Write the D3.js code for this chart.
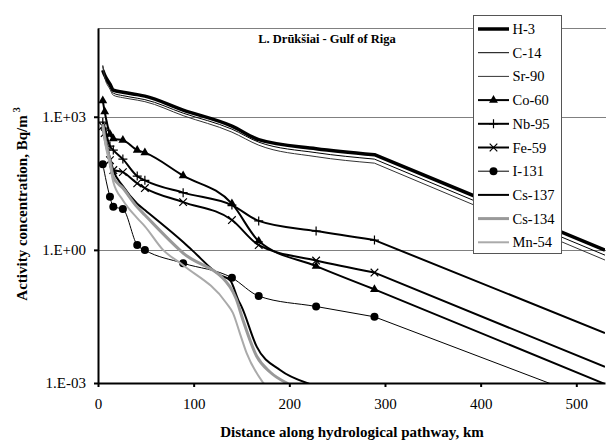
<!DOCTYPE html>
<html>
<head>
<meta charset="utf-8">
<script src="https://cdn.jsdelivr.net/npm/d3@7"></script>
<style>
body { margin: 0; background: #fff; }
svg text { font-family: "Liberation Serif", "Times New Roman", serif; fill: #000; }
</style>
</head>
<body>
<script>

// distances along the pathway (km) shared by the marker series
var dist = [5, 7, 12.5, 16, 26, 41, 49, 89, 140, 168, 228, 289, 530];

// activity concentration, Bq/m3
var h3   = [11200, 8650, 5420, 3970, 3580, 3150, 2910, 1410, 614, 305, 191, 140, 0.99];
var c14  = [13800, 8200, 4640, 3400, 2990, 2620, 2430, 1205, 526, 268, 155, 111, 0.76];
var sr90 = [14500, 7800, 4190, 3060, 2690, 2370, 2190, 1060, 450, 229, 126, 90, 0.59];
var co60 = [2300, 1300, 405, 321, 297, 177, 155, 47, 11, 1.58, 0.43, 0.129, 0.00095];
var nb95 = [755, 553, 218, 177, 111, 46, 37, 19.5, 10.2, 4.5, 2.65, 1.66, 0.0134];
var fe59 = [614, 427, 105, 63, 56.5, 31.5, 24.7, 11.9, 4.7, 1.28, 0.574, 0.308, 0.0023];
var i131 = [85.5, null, 15.7, 9.35, 8.3, 1.28, 0.99, 0.50, 0.235, 0.091, 0.053, 0.031, 0.00033];

// the short lived cesium / manganese curves have their own points
var cs137Dist = [5, 7, 12.5, 16, 26, 41, 49, 89, 98, 127.5, 138, 146.7, 150.2, 165.9, 190.3, 219.8, 240];
var cs137     = [553, 330, 117, 62.7, 27.3, 11, 7.9, 1.5, 1.0, 0.27, 0.209, 0.074, 0.052, 0.0066, 0.00196, 0.00098, 0.0006];
var cs134Dist = [5, 7, 12.5, 16, 26, 41, 49, 89, 138, 144.3, 151.6, 165.9, 179.8, 197.3, 210];
var cs134     = [681, 347, 105, 43.6, 24.7, 9.2, 6.1, 0.85, 0.147, 0.08, 0.026, 0.004, 0.00177, 0.001, 0.0006];
var mn54Dist  = [5, 7, 12.5, 16, 26, 41, 49, 68, 89, 134.5, 141, 148.4, 155.4, 172.8, 185];
var mn54      = [614, 297, 81, 33.7, 13.2, 5.2, 3.4, 1.0, 0.45, 0.062, 0.038, 0.013, 0.0047, 0.001, 0.0005];

var xTicks = [0, 100, 200, 300, 400, 500];
var yTicks = [1e-3, 1, 1e3];
var yTickLabels = ["1.E-03", "1.E+00", "1.E+03"];
var gridValues = [1, 1e3];

// series list (order = drawing order = legend order)
var series = [
	{name: "H-3",    xs: dist,      ys: h3,    color: "#000",    width: 3.5},
	{name: "C-14",   xs: dist,      ys: c14,   color: "#000",    width: 1},
	{name: "Sr-90",  xs: dist,      ys: sr90,  color: "#333",    width: 1},
	{name: "Co-60",  xs: dist,      ys: co60,  color: "#000",    width: 2, marker: "triangle"},
	{name: "Nb-95",  xs: dist,      ys: nb95,  color: "#000",    width: 2, marker: "plus"},
	{name: "Fe-59",  xs: dist,      ys: fe59,  color: "#000",    width: 2, marker: "cross"},
	{name: "I-131",  xs: dist,      ys: i131,  color: "#000",    width: 1, marker: "circle"},
	{name: "Cs-137", xs: cs137Dist, ys: cs137, color: "#000",    width: 2},
	{name: "Cs-134", xs: cs134Dist, ys: cs134, color: "#999",    width: 3},
	{name: "Mn-54",  xs: mn54Dist,  ys: mn54,  color: "#aaa",    width: 2}
];

var width = 606;
var height = 442;
var plotLeft = 98, plotRight = 605, plotTop = 28, plotBottom = 383;

var svg = d3.select("body")
			.append("svg")
			.attr("width", width)
			.attr("height", height);

var x = d3.scaleLinear().domain([0, 530]).range([plotLeft, plotRight]);
var y = d3.scaleLog().domain([1e-3, 1e5]).range([plotBottom, plotTop]);

svg.append("defs").append("clipPath")
	.attr("id", "plot")
	.append("rect")
	.attr("x", plotLeft).attr("y", plotTop)
	.attr("width", plotRight - plotLeft).attr("height", plotBottom - plotTop);

// gridlines + top border of the plot area
svg.selectAll("line.grid")
	.data(gridValues.concat([1e5]))
	.enter()
	.append("line")
	.attr("class", "grid")
	.attr("x1", plotLeft).attr("x2", width)
	.attr("y1", function(d) { return Math.round(y(d)) + 0.5; })
	.attr("y2", function(d) { return Math.round(y(d)) + 0.5; })
	.style("stroke", "#808080")
	.style("stroke-width", 1.2);

var line = d3.line()
	.x(function(d) { return x(d[0]); })
	.y(function(d) { return y(d[1]); })
	.curve(d3.curveMonotoneX);

function points(s) {
	var p = [];
	for (var i = 0; i < s.xs.length; i++) {
		if (s.ys[i] != null) p.push([s.xs[i], s.ys[i]]);
	}
	return p;
}

// smooth through the points, straight run out to the last one
function pathFor(p) {
	var last = p[p.length - 1];
	return line(p.slice(0, -1)) + "L" + x(last[0]) + "," + y(last[1]);
}

// marker drawing, used in plot and legend
function drawMarker(g, type, color) {
	if (type == "triangle") {
		g.append("path").attr("d", d3.symbol(d3.symbolTriangle, 34)()).style("fill", color);
	} else if (type == "plus") {
		g.append("path").attr("d", "M-4.5,0H4.5M0,-4.5V4.5").style("stroke", color).style("stroke-width", 1.2);
	} else if (type == "cross") {
		g.append("path").attr("d", "M-3.8,-3.8L3.8,3.8M-3.8,3.8L3.8,-3.8").style("stroke", color).style("stroke-width", 1.2);
	} else if (type == "circle") {
		g.append("circle").attr("r", 4).style("fill", color);
	}
}

var plot = svg.append("g").attr("clip-path", "url(#plot)");

series.forEach(function(s) {
	var p = points(s);
	plot.append("path")
		.attr("d", pathFor(p))
		.style("fill", "none")
		.style("stroke", s.color)
		.style("stroke-width", s.width)
		.style("stroke-linejoin", "round");
	if (s.marker) {
		// no marker on the far end point
		p.slice(0, -1).forEach(function(d) {
			var m = plot.append("g").attr("transform", "translate(" + x(d[0]) + "," + y(d[1]) + ")");
			drawMarker(m, s.marker, s.color);
		});
	}
});

// axes
var xAxis = svg.append("g")
	.attr("transform", "translate(0," + plotBottom + ")")
	.call(d3.axisBottom(x).tickValues(xTicks).tickSize(4).tickSizeOuter(0).tickPadding(11));

var yAxis = svg.append("g")
	.attr("transform", "translate(" + plotLeft + ",0)")
	.call(d3.axisLeft(y).tickValues(yTicks)
		.tickFormat(function(d, i) { return yTickLabels[i]; })
		.tickSize(4).tickSizeOuter(0).tickPadding(8));

[xAxis, yAxis].forEach(function(a) {
	a.select(".domain").style("stroke", "#000").style("stroke-width", 2);
	a.selectAll(".tick line").style("stroke", "#000").style("stroke-width", 2);
	a.selectAll(".tick text")
		.style("font-family", '"Liberation Serif", "Times New Roman", serif')
		.style("font-size", "15px");
});

// title and axis titles
svg.append("text")
	.attr("x", 327).attr("y", 43)
	.attr("text-anchor", "middle")
	.style("font-size", "12.5px")
	.style("font-weight", "bold")
	.text("L. Drūkšiai - Gulf of Riga");

svg.append("text")
	.attr("x", 352).attr("y", 437)
	.attr("text-anchor", "middle")
	.style("font-size", "15px")
	.style("font-weight", "bold")
	.text("Distance along hydrological pathway, km");

var ylab = svg.append("text")
	.attr("transform", "translate(27,204) rotate(-90)")
	.attr("text-anchor", "middle")
	.style("font-size", "15px")
	.style("font-weight", "bold");
ylab.append("tspan").text("Activity concentration, Bq/m");
ylab.append("tspan").attr("dx", 3).attr("dy", -7).style("font-size", "10px").text("3");

// legend
var legend = svg.append("g").attr("transform", "translate(473.5,15.5)");

legend.append("rect")
	.attr("width", 88)
	.attr("height", 238)
	.style("fill", "#fff")
	.style("stroke", "#555")
	.style("stroke-width", 1);

var items = legend.selectAll("g.item")
	.data(series)
	.enter()
	.append("g")
	.attr("class", "item")
	.attr("transform", function(d, i) { return "translate(0," + (13.5 + i * 23.7) + ")"; });

items.append("line")
	.attr("x1", 4.5).attr("x2", 35.5)
	.style("stroke", function(d) { return d.color; })
	.style("stroke-width", function(d) { return d.width; });

items.each(function(d) {
	if (d.marker) {
		drawMarker(d3.select(this).append("g").attr("transform", "translate(20,0)"), d.marker, d.color);
	}
});

items.append("text")
	.attr("x", 39)
	.attr("dy", "0.35em")
	.style("font-size", "14.5px")
	.text(function(d) { return d.name; });

</script>
</body>
</html>
